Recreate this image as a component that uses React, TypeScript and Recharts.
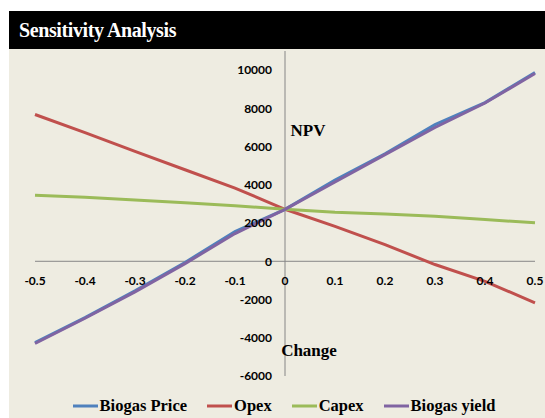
import { LineChart, Line, XAxis, YAxis, ReferenceLine, ReferenceDot, Legend } from 'recharts';

const changes = [-0.5, -0.4, -0.3, -0.2, -0.1, 0, 0.1, 0.2, 0.3, 0.4, 0.5];
const biogasPrice = [-4250, -2950, -1550, -60, 1550, 2720, 4250, 5620, 7150, 8300, 9880];
const opex = [7680, 6730, 5750, 4790, 3830, 2720, 1830, 870, -170, -1050, -2170];
const capex = [3460, 3350, 3200, 3060, 2910, 2720, 2560, 2470, 2350, 2180, 2010];
const biogasYield = [-4300, -2980, -1600, -120, 1450, 2720, 4150, 5580, 7000, 8280, 9820];

const xTicks = [-0.5, -0.4, -0.3, -0.2, -0.1, 0, 0.1, 0.2, 0.3, 0.4, 0.5];
const yTicks = [-6000, -4000, -2000, 0, 2000, 4000, 6000, 8000, 10000];

const series = [
  { key: 'price', name: 'Biogas Price', color: '#4F81BD' },
  { key: 'opex', name: 'Opex', color: '#C0504D' },
  { key: 'capex', name: 'Capex', color: '#9BBB59' },
  { key: 'yield', name: 'Biogas yield', color: '#8064A2' },
];

const data = changes.map((c, i) => ({
  change: c,
  price: biogasPrice[i],
  opex: opex[i],
  capex: capex[i],
  yield: biogasYield[i],
}));

const tickFont = { fill: '#000', fontSize: 12, fontWeight: 700, fontFamily: 'Lato' };
const serif = '"Liberation Serif", "Times New Roman", serif';
const axisColor = '#868686';

// legend drawn in the series order (recharts sorts payload by name otherwise)
const LegendContent = () => (
  <div style={{ display: 'flex', justifyContent: 'center', alignItems: 'center', height: 20, paddingLeft: 34 }}>
    {series.map((s) => (
      <div key={s.key} style={{ display: 'flex', alignItems: 'center', marginRight: 20 }}>
        <svg width={25} height={4} style={{ marginRight: 2 }}>
          <line x1={0} y1={2} x2={25} y2={2} stroke={s.color} strokeWidth={3} />
        </svg>
        <span style={{ fontFamily: serif, fontWeight: 700, fontSize: 16.5, color: '#000' }}>{s.name}</span>
      </div>
    ))}
  </div>
);

const App = () => (
  <div style={{ position: 'absolute', left: 9, top: 11, width: 536, height: 407, background: '#EEECE1' }}>
    <div
      style={{
        height: 38,
        background: '#000',
        color: '#fff',
        fontFamily: serif,
        fontWeight: 700,
        fontSize: 20,
        letterSpacing: -0.4,
        lineHeight: '38px',
        paddingLeft: 10,
      }}
    >
      Sensitivity Analysis
    </div>
    <LineChart width={536} height={369} data={data} margin={{ top: 2, right: 10, left: 26, bottom: 22 }}>
      <XAxis type="number" dataKey="change" domain={[-0.5, 0.5]} ticks={xTicks} hide />
      <YAxis type="number" domain={[-6000, 11000]} ticks={yTicks} hide />
      <ReferenceLine x={0} stroke={axisColor} />
      <ReferenceLine y={0} stroke={axisColor} />
      {xTicks.map((v) => (
        <ReferenceDot
          key={'x' + v}
          x={v}
          y={0}
          r={0}
          fill="none"
          stroke="none"
          label={{ value: String(v), position: 'bottom', offset: 15, ...tickFont }}
        />
      ))}
      {yTicks.map((v) => (
        <ReferenceDot
          key={'y' + v}
          x={0}
          y={v}
          r={0}
          fill="none"
          stroke="none"
          label={{ value: String(v), position: 'left', offset: 13, ...tickFont }}
        />
      ))}
      <ReferenceDot
        x={0.046}
        y={6850}
        r={0}
        fill="none"
        stroke="none"
        label={{ value: 'NPV', position: 'center', fill: '#000', fontSize: 17, fontWeight: 700, fontFamily: serif }}
      />
      <ReferenceDot
        x={0.048}
        y={-4650}
        r={0}
        fill="none"
        stroke="none"
        label={{ value: 'Change', position: 'center', fill: '#000', fontSize: 17, fontWeight: 700, fontFamily: serif }}
      />
      {series.map((s) => (
        <Line
          key={s.key}
          type="linear"
          dataKey={s.key}
          name={s.name}
          stroke={s.color}
          strokeWidth={3}
          dot={false}
          isAnimationActive={false}
        />
      ))}
      <Legend verticalAlign="bottom" content={LegendContent} wrapperStyle={{ left: 0, width: 536, bottom: 2 }} />
    </LineChart>
  </div>
);

export default App;
